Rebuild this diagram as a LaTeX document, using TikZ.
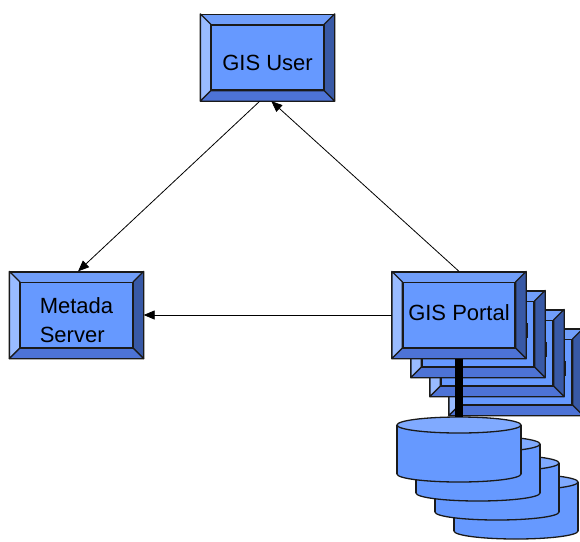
\documentclass[tikz,border=0pt]{standalone}
\usepackage{fontspec}
\setmainfont{Liberation Sans}
\usepackage{tikz}
\usetikzlibrary{calc,arrows.meta}

\definecolor{facecol}{RGB}{102,153,255}
\definecolor{topcol}{RGB}{112,158,250}
\definecolor{leftcol}{RGB}{153,187,255}
\definecolor{rightcol}{RGB}{56,89,166}
\definecolor{bottomcol}{RGB}{77,115,214}
\definecolor{dbtopcol}{RGB}{128,170,255}
\definecolor{edgecol}{RGB}{26,26,26}

\tikzset{
    boxframe/.style={draw=edgecol, line width=1.3pt, fill=topcol, minimum width=133pt, minimum height=86pt, inner sep=0pt},
    boxface/.style={draw=edgecol, line width=1.3pt, fill=facecol, minimum width=112pt, minimum height=65pt, inner sep=0pt},
    boxtext/.style={align=left, inner sep=0pt, font=\fontsize{22}{28.5}\selectfont},
    bevel/.style={draw=edgecol, line width=1.3pt, line join=round},
    dbnode/.style={minimum width=124pt, minimum height=65pt, inner sep=0pt},
    dbside/.style={draw=edgecol, line width=1.3pt},
    arr/.style={-{Triangle[length=11pt,width=9pt]}, line width=0.8pt, black}
}

% Box con bordo smussato (#4: spostamento verticale del testo)
\newcommand{\bevelbox}[4]{%
    \node[boxframe] (#1) at (#2) {};
    \filldraw[bevel, fill=leftcol] (#1.north west) -- ++(10.5,10.5) -- ($(#1.south west)+(10.5,-10.5)$) -- (#1.south west) -- cycle;
    \filldraw[bevel, fill=rightcol] (#1.north east) -- ++(-10.5,10.5) -- ($(#1.south east)+(-10.5,-10.5)$) -- (#1.south east) -- cycle;
    \filldraw[bevel, fill=bottomcol] (#1.south west) -- ++(10.5,-10.5) -- ($(#1.south east)+(-10.5,-10.5)$) -- (#1.south east) -- cycle;
    \node[boxface] (#1-face) at (#1) {};
    \node[boxtext] (#1-text) at ($(#1)+(0,#4)$) {#3};
}

% Cilindro (database)
\newcommand{\database}[2]{%
    \node[dbnode] (#1) at (#2) {};
    \filldraw[dbside, fill=facecol] ($(#1.center)+(0,24.5)$) ellipse [x radius=62, y radius=8];
    \fill[facecol] ($(#1.center)+(-62,-24.5)$) rectangle ($(#1.center)+(62,24.5)$);
    \draw[dbside] ($(#1.center)+(-62,-24.5)$) -- ++(0,49);
    \draw[dbside] ($(#1.center)+(62,-24.5)$) -- ++(0,49);
    \filldraw[dbside, fill=dbtopcol] ($(#1.center)+(0,-24.5)$) ellipse [x radius=62, y radius=8];
}

\begin{document}
\begin{tikzpicture}[x=1pt, y=-1pt]
    \useasboundingbox (0,0) rectangle (580,541);

    % Utente in alto
    \bevelbox{gisuser}{267.5,57.5}{GIS User}{5}

    % Server dei metadati
    \bevelbox{metada}{76.5,315}{Metada\\Server}{5}

    % Pila di portali
    \foreach \i/\x/\y in {4/516/372, 3/497/353, 2/478/334} {
        \bevelbox{gp\i}{\x,\y}{}{0}
        \draw[line width=2pt, edgecol] ($(gp\i.west)+(116,-11)$) -- ++(0,15);
    }
    \bevelbox{gp1}{459,315}{GIS Portal}{-2}

    % Pila di database
    \foreach \i/\x/\y in {4/516/506.5, 3/497/487.5, 2/478/468.5, 1/459/449.5} {
        \database{db\i}{\x,\y}
    }

    % Collegamento portale - database
    \draw[line width=8pt, black] (gp1.south) -- (db1.north);

    % Frecce
    \draw[arr] (gp1.north) -- (gisuser.-85);
    \draw[arr] (gisuser.-100) -- (metada.88);
    \draw[arr] (gp1.west) -- (metada.east);
\end{tikzpicture}
\end{document}
